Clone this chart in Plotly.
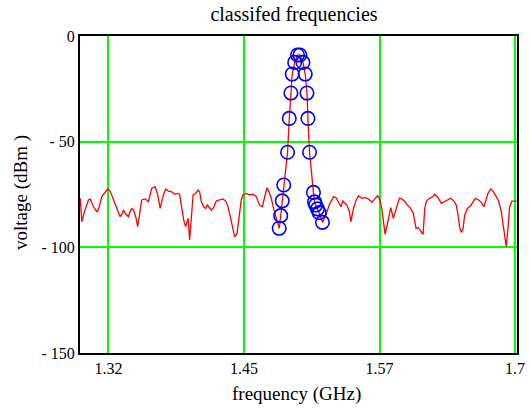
import plotly.graph_objects as go

# Spectrum (frequency in GHz, level in dBm)
freq = [1.2990, 1.3005, 1.3029, 1.3066, 1.3082, 1.3112, 1.3143, 1.3158, 1.3189, 1.3220,
        1.3244, 1.3266, 1.3297, 1.3327, 1.3358, 1.3373, 1.3389, 1.3404, 1.3435, 1.3450,
        1.3465, 1.3481, 1.3502, 1.3520, 1.3542, 1.3557, 1.3589, 1.3619, 1.3649, 1.3681,
        1.3705, 1.3727, 1.3757, 1.3778, 1.3803, 1.3834, 1.3865, 1.3895, 1.3907, 1.3923,
        1.3944, 1.3962, 1.3985, 1.3999, 1.4015, 1.4031, 1.4055, 1.4077, 1.4091, 1.4107,
        1.4128, 1.4147, 1.4162, 1.4184, 1.4199, 1.4220, 1.4245, 1.4276, 1.4307, 1.4331,
        1.4353, 1.4374, 1.4399, 1.4414, 1.4436, 1.4460, 1.4475, 1.4491, 1.4522, 1.4552,
        1.4583, 1.4614, 1.4644, 1.4669, 1.4690, 1.4712, 1.4731, 1.4752, 1.4773, 1.4791,
        1.4807, 1.4825, 1.4839, 1.4853, 1.4867, 1.4902, 1.4918, 1.4933, 1.4945, 1.4968,
        1.4994, 1.5016, 1.5044, 1.5065, 1.5081, 1.5090, 1.5105, 1.5141, 1.5151, 1.5162,
        1.5178, 1.5194, 1.5224, 1.5254, 1.5286, 1.5326, 1.5350, 1.5372, 1.5394, 1.5412,
        1.5433, 1.5449, 1.5473, 1.5486, 1.5510, 1.5535, 1.5556, 1.5587, 1.5617, 1.5648,
        1.5679, 1.5700, 1.5731, 1.5749, 1.5771, 1.5802, 1.5832, 1.5854, 1.5878, 1.5903,
        1.5933, 1.5956, 1.5986, 1.6007, 1.6032, 1.6062, 1.6087, 1.6108, 1.6124, 1.6152,
        1.6167, 1.6182, 1.6213, 1.6244, 1.6259, 1.6290, 1.6320, 1.6345, 1.6375, 1.6407,
        1.6437, 1.6458, 1.6474, 1.6490, 1.6504, 1.6520, 1.6536, 1.6560, 1.6591, 1.6612,
        1.6633, 1.6665, 1.6689, 1.6713, 1.6735, 1.6750, 1.6775, 1.6796, 1.6827, 1.6849,
        1.6873, 1.6898, 1.6919, 1.6935, 1.6950, 1.6971, 1.7002, 1.7016]
level = [-76.8, -87.9, -83.1, -77.6, -77.1, -80.8, -83.1, -82.3, -76.0, -73.7,
         -72.4, -73.4, -77.6, -81.6, -85.5, -84.4, -82.3, -83.9, -85.5, -83.1,
         -81.6, -82.3, -85.5, -90.2, -81.6, -77.6, -77.1, -78.4, -72.1, -71.3,
         -75.2, -81.6, -75.2, -72.4, -73.4, -73.7, -74.9, -74.5, -74.9, -80.0,
         -87.1, -90.2, -86.3, -96.5, -83.1, -75.2, -74.5, -72.9, -73.7, -78.4,
         -80.8, -81.6, -80.0, -81.6, -82.3, -81.2, -78.1, -77.6, -77.1, -78.1,
         -80.8, -85.5, -91.0, -95.0, -93.4, -84.7, -77.6, -75.2, -74.5, -75.2,
         -74.9, -76.0, -80.0, -80.8, -76.8, -71.8, -73.7, -76.8, -81.6, -84.7,
         -88.0, -91.0, -85.0, -78.0, -70.5, -55.0, -39.0, -27.0, -18.0, -12.5,
         -9.0, -9.0, -12.5, -18.0, -27.0, -39.0, -55.0, -74.0, -78.5, -80.0,
         -81.8, -83.6, -88.2, -85.0, -80.0, -76.0, -76.5, -78.4, -80.8, -78.1,
         -79.2, -80.0, -83.1, -87.9, -81.6, -77.6, -75.6, -76.8, -76.5, -77.1,
         -78.7, -77.6, -75.6, -76.8, -81.6, -93.9, -85.5, -81.2, -86.3, -82.3,
         -76.8, -77.1, -78.4, -80.0, -81.2, -83.9, -91.0, -90.7, -91.8, -93.9,
         -81.6, -78.1, -76.8, -76.0, -74.9, -76.5, -79.2, -78.4, -77.6, -76.8,
         -78.1, -80.0, -84.7, -90.7, -92.9, -91.3, -84.7, -81.6, -80.3, -78.4,
         -76.8, -77.6, -78.7, -80.8, -77.6, -74.5, -72.4, -73.4, -76.0, -78.1,
         -83.1, -91.0, -99.7, -91.0, -80.8, -78.1, -78.1, -78.1]

# Classified (circled) points
class_freq = [1.4825, 1.4839, 1.4853, 1.4867, 1.4902, 1.4918, 1.4933, 1.4945, 1.4968, 1.4994,
              1.5016, 1.5044, 1.5065, 1.5081, 1.5090, 1.5105, 1.5141, 1.5151, 1.5162, 1.5178,
              1.5194, 1.5224]
class_level = [-91.0, -85.0, -78.0, -70.5, -55.0, -39.0, -27.0, -18.0, -12.5, -9.0,
               -9.0, -12.5, -18.0, -27.0, -39.0, -55.0, -74.0, -78.5, -80.0, -81.8,
               -83.6, -88.2]

x_tickvals = [1.325, 1.45, 1.575, 1.7]
x_ticktext = ["1.32", "1.45", "1.57", "1.7"]
y_tickvals = [0, -50, -100, -150]
y_ticktext = ["0", "- 50", "- 100", "- 150"]

fig = go.Figure()
fig.add_trace(go.Scatter(x=freq, y=level, mode="lines",
                         line=dict(color="#ff0000", width=1.3), showlegend=False))
fig.add_trace(go.Scatter(x=class_freq, y=class_level, mode="markers",
                         marker=dict(symbol="circle-open", size=13.5, color="#0000ff",
                                     line=dict(width=1.6, color="#0000ff")),
                         showlegend=False))

font = "Liberation Serif"
pl, pr, pt, pb = 80, 517, 36, 353   # plot-area edges in page pixels
W, H = 530, 408
fig.update_layout(
    width=W, height=H,
    margin=dict(l=pl, r=W - pr, t=pt, b=H - pb),
    paper_bgcolor="white", plot_bgcolor="white",
    font=dict(family=font, size=16, color="black"),
    title=dict(text="classifed frequencies", x=294/W, xref="container", xanchor="center",
               y=1-14/H, yref="container", yanchor="middle",
               font=dict(family=font, size=20, color="black")),
    annotations=[
        dict(text="frequency (GHz)", x=(296 - pl) / (pr - pl), y=(pb - 394) / (pb - pt),
             xref="paper", yref="paper",
             xanchor="center", yanchor="middle", showarrow=False,
             font=dict(family=font, size=19, color="black")),
        dict(text="voltage (dBm )", x=(21 - pl) / (pr - pl), y=(pb - 192) / (pb - pt),
             xref="paper", yref="paper",
             xanchor="center", yanchor="middle", showarrow=False, textangle=-90,
             font=dict(family=font, size=19, color="black")),
    ],
)

fig.update_xaxes(range=[1.2988, 1.7018], tickvals=x_tickvals, ticktext=x_ticktext,
                 showgrid=True, gridcolor="#00ff00", gridwidth=2,
                 showline=True, linecolor="black", linewidth=2, mirror=True,
                 zeroline=False, ticks="", automargin=False)
fig.update_yaxes(range=[-150, 0], tickvals=y_tickvals, ticktext=y_ticktext,
                 showgrid=True, gridcolor="#00ff00", gridwidth=2,
                 showline=True, linecolor="black", linewidth=2, mirror=True,
                 zeroline=False, ticks="", automargin=False)

fig.write_html("out.html", config={"displayModeBar": False},
               post_script="document.body.style.margin='0';")
